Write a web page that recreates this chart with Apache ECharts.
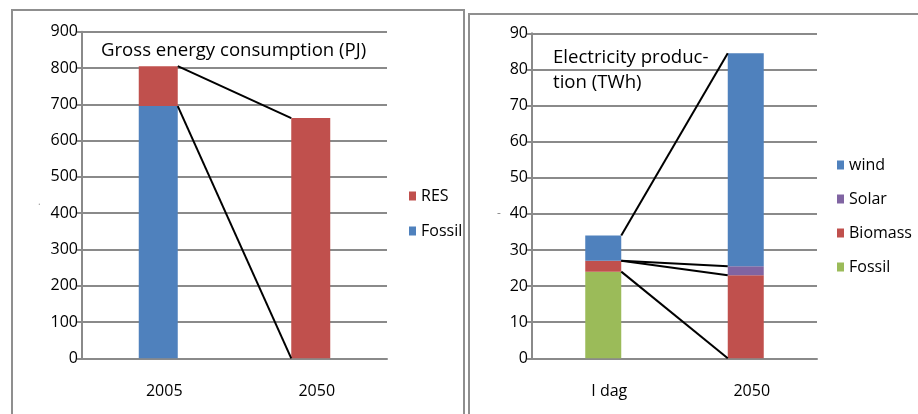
<!DOCTYPE html>
<html>
<head>
<meta charset="utf-8">
<script src="https://cdn.jsdelivr.net/npm/echarts@6/dist/echarts.min.js"></script>
<style>
  html, body { margin: 0; padding: 0; background: #fff; }
  #wrap { position: relative; width: 918px; height: 414px; overflow: hidden; }
  .frame { position: absolute; border: 2px solid #8f8f8f; box-sizing: border-box; }
  #frameLeft { left: 11px; top: 9px; width: 454px; height: 430px; }
  #frameRight { left: 468px; top: 13px; width: 470px; height: 430px; }
  .chart { position: absolute; left: 0; top: 0; width: 918px; height: 414px; }
</style>
</head>
<body>
<div id="wrap">
  <div class="frame" id="frameLeft"></div>
  <div class="frame" id="frameRight"></div>
  <div class="chart" id="energyChart"></div>
  <div class="chart" id="elecChart"></div>
</div>
<script>
// Gross energy consumption (PJ)
const energyCategories = ['2005', '2050'];
const energyFossil = [695, 0];
const energyRES = [110, 662];
const energyAxisMin = 0, energyAxisMax = 900, energyAxisStep = 100;

// Electricity production (TWh)
const elecCategories = ['I dag', '2050'];
const elecFossil = [24, 0];
const elecBiomass = [3, 23];
const elecSolar = [0, 2.5];
const elecWind = [7, 59];
const elecAxisMin = 0, elecAxisMax = 90, elecAxisStep = 10;

const FONT = 'Open Sans';
const TEXT = '#000';
const GRID_GREY = '#8a8a8a';
const COLORS = { blue: '#4f81bd', red: '#c0504d', green: '#9bbb59', purple: '#8064a2' };

// running totals of stacked series, one array per boundary
function cumulative(seriesList) {
  const out = [];
  const acc = seriesList[0].map(() => 0);
  seriesList.forEach(s => {
    s.forEach((v, i) => { acc[i] += v; });
    out.push(acc.slice());
  });
  return out;
}

// black lines joining stack boundaries from the first bar's right edge to the second bar's left edge
function connectorSeries(bounds, barWidth) {
  return {
    type: 'custom',
    silent: true,
    z: 5,
    encode: { x: 0, y: 1 },
    data: bounds.map(b => [0, b[0], b[1]]),
    renderItem(params, api) {
      const a = api.coord([0, api.value(1)]);
      const b = api.coord([1, api.value(2)]);
      return {
        type: 'line',
        shape: { x1: a[0] + barWidth / 2, y1: a[1], x2: b[0] - barWidth / 2, y2: b[1] },
        style: { stroke: '#000', lineWidth: 2 }
      };
    }
  };
}

function baseAxes(categories, min, max, step) {
  return {
    xAxis: {
      type: 'category',
      data: categories,
      axisLine: { lineStyle: { color: GRID_GREY, width: 2 } },
      axisTick: { show: false },
      axisLabel: { margin: 25, padding: [0, 0, 0, 12], fontFamily: FONT, fontSize: 16, color: TEXT }
    },
    yAxis: {
      type: 'value',
      min: min, max: max, interval: step,
      axisLine: { show: true, lineStyle: { color: GRID_GREY, width: 2 } },
      axisTick: { show: true, length: 5, lineStyle: { color: GRID_GREY, width: 2 } },
      splitLine: { lineStyle: { color: GRID_GREY, width: 2 } },
      axisLabel: { margin: 4, fontFamily: FONT, fontSize: 16, color: TEXT }
    }
  };
}

// ---- left chart ----
const energyBarWidth = 39;
const energyChart = echarts.init(document.getElementById('energyChart'), null, { renderer: 'canvas' });
const energyBounds = cumulative([energyFossil, energyRES]);
energyChart.setOption(Object.assign({
  animation: false,
  backgroundColor: 'transparent',
  grid: { left: 82, top: 31.7, width: 305, height: 326.6 },
  legend: {
    orient: 'vertical', left: 409, top: 188, padding: 0,
    icon: 'rect', itemWidth: 7, itemHeight: 9, itemGap: 19,
    data: ['RES', 'Fossil'],
    textStyle: { fontFamily: FONT, fontSize: 16, color: TEXT }
  },
  graphic: [
    { type: 'text', left: 101, top: 41, style: { text: 'Gross energy consumption (PJ)', font: '18.6px "Open Sans"', fill: TEXT } },
    { type: 'text', left: 38, top: 197, style: { text: '.', font: '10px "Open Sans"', fill: '#999' } }
  ],
  series: [
    { name: 'Fossil', type: 'bar', stack: 'total', barWidth: energyBarWidth, data: energyFossil, itemStyle: { color: COLORS.blue } },
    { name: 'RES', type: 'bar', stack: 'total', barWidth: energyBarWidth, data: energyRES, itemStyle: { color: COLORS.red } },
    connectorSeries(energyBounds, energyBarWidth)
  ]
}, baseAxes(energyCategories, energyAxisMin, energyAxisMax, energyAxisStep)));

// ---- right chart ----
const elecBarWidth = 36;
const elecChart = echarts.init(document.getElementById('elecChart'), null, { renderer: 'canvas' });
const elecBounds = cumulative([elecFossil, elecBiomass, elecSolar, elecWind]);
elecChart.setOption(Object.assign({
  animation: false,
  backgroundColor: 'transparent',
  grid: { left: 532, top: 33.3, width: 285, height: 325 },
  legend: {
    orient: 'vertical', left: 837, top: 157, padding: 0,
    icon: 'rect', itemWidth: 7, itemHeight: 9, itemGap: 18,
    data: ['wind', 'Solar', 'Biomass', 'Fossil'],
    textStyle: { fontFamily: FONT, fontSize: 16, color: TEXT }
  },
  graphic: [
    { type: 'text', left: 553, top: 45, style: { text: 'Electricity produc-\ntion (TWh)', font: '18.6px "Open Sans"', lineHeight: 25, fill: TEXT } },
    { type: 'text', left: 497, top: 208, style: { text: '-', font: '12px "Open Sans"', fill: '#888' } }
  ],
  series: [
    { name: 'Fossil', type: 'bar', stack: 'total', barWidth: elecBarWidth, data: elecFossil, itemStyle: { color: COLORS.green } },
    { name: 'Biomass', type: 'bar', stack: 'total', barWidth: elecBarWidth, data: elecBiomass, itemStyle: { color: COLORS.red } },
    { name: 'Solar', type: 'bar', stack: 'total', barWidth: elecBarWidth, data: elecSolar, itemStyle: { color: COLORS.purple } },
    { name: 'wind', type: 'bar', stack: 'total', barWidth: elecBarWidth, data: elecWind, itemStyle: { color: COLORS.blue } },
    connectorSeries(elecBounds, elecBarWidth)
  ]
}, baseAxes(elecCategories, elecAxisMin, elecAxisMax, elecAxisStep)));
</script>
</body>
</html>
